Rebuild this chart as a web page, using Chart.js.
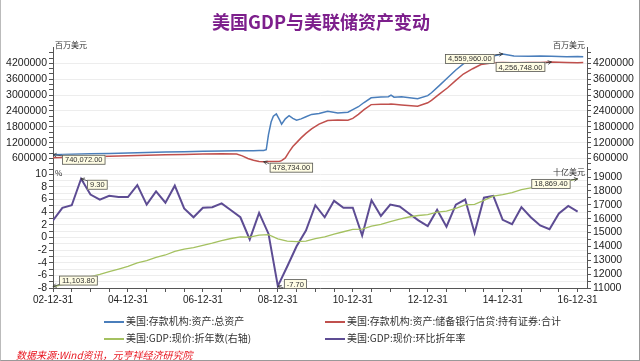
<!DOCTYPE html>
<html>
<head>
<meta charset="utf-8">
<script src="https://cdn.jsdelivr.net/npm/chart.js@4.4.1/dist/chart.umd.min.js"></script>
<style>
  body { margin: 0; background: #fff; }
  #wrap { position: relative; width: 640px; height: 361px; box-sizing: border-box;
          border-right: 1px solid #999; border-bottom: 1px solid #999; border-left: 1px solid #bbb; }
  #wrap canvas { position: absolute; left: 0; top: 0; }
  .leg { position: absolute; font: 10px "Noto Sans CJK SC", sans-serif; color: #333; white-space: nowrap; line-height: 12px; }
  .leg i { position: absolute; top: 6px; height: 2px; }
  #src { position: absolute; left: 15px; top: 347px; color: #e8141e; font: italic 10px "Noto Sans CJK SC", sans-serif; white-space: nowrap; }
</style>
</head>
<body>
<div id="wrap">
  <canvas id="chart" width="640" height="361"></canvas>
  <div id="legend"></div>
  <div id="src">数据来源:Wind资讯，元亨祥经济研究院</div>
</div>
<script>
// 标题和图例
const chartTitle = "美国GDP与美联储资产变动";
const seriesNames = [
    "美国:存款机构:资产:总资产",
    "美国:存款机构:资产:储备银行信贷:持有证券:合计",
    "美国:GDP:现价:折年数(右轴)",
    "美国:GDP:现价:环比折年率"
];
const seriesColors = ["#4a7ebb", "#c0504d", "#a4c160", "#5d4c93"];

// 美联储资产 (百万美元), 按日期 (年份小数)
const assetDates = [2003.00, 2003.50, 2004.00, 2004.50, 2005.00, 2005.50, 2006.00, 2006.50, 2007.00, 2007.50,
    2007.90, 2008.05, 2008.20, 2008.35, 2008.50, 2008.62, 2008.69, 2008.75, 2008.82, 2008.88,
    2008.96, 2009.05, 2009.10, 2009.20, 2009.30, 2009.40, 2009.50, 2009.62, 2009.75, 2009.90,
    2010.10, 2010.33, 2010.60, 2010.87, 2011.00, 2011.15, 2011.30, 2011.49, 2011.75, 2011.95,
    2012.02, 2012.10, 2012.30, 2012.73, 2013.00, 2013.10, 2013.30, 2013.53, 2013.75, 2013.95,
    2014.20, 2014.42, 2014.75, 2015.00, 2015.30, 2015.70, 2016.00, 2016.30, 2016.70, 2017.00, 2017.15];
const totalAssets = [740072, 758000, 775000, 790000, 810000, 828000, 845000, 858000, 872000, 885000,
    890000, 888000, 890000, 895000, 900000, 905000, 930000, 1500000, 1980000, 2200000,
    2290000, 2050000, 1900000, 2100000, 2220000, 2120000, 2050000, 2100000, 2180000, 2270000,
    2300000, 2390000, 2320000, 2350000, 2450000, 2560000, 2720000, 2900000, 2930000, 2940000,
    3000000, 2920000, 2940000, 2860000, 2980000, 3090000, 3350000, 3660000, 3950000, 4180000,
    4380000, 4500000, 4480000, 4559960, 4480000, 4470000, 4480000, 4470000, 4450000, 4460000, 4450000];
const securities = [630000, 648000, 668000, 685000, 705000, 722000, 740000, 755000, 768000, 778000,
    765000, 700000, 600000, 530000, 484000, 478734, 480000, 482000, 485000, 488000,
    490000, 495000, 520000, 620000, 850000, 1050000, 1200000, 1380000, 1550000, 1720000,
    1900000, 2040000, 2060000, 2050000, 2120000, 2270000, 2450000, 2640000, 2650000, 2650000,
    2660000, 2650000, 2630000, 2580000, 2710000, 2800000, 3030000, 3280000, 3560000, 3800000,
    4000000, 4160000, 4230000, 4240000, 4230000, 4240000, 4235000, 4256748, 4240000, 4230000, 4235000];

// GDP 季度数据, 2002Q4 起
const gdpStartYear = 2003;   // 2002-12-31
const gdpLevel = [11103.8, 11230, 11370, 11625, 11817, 11989, 12182, 12368, 12562, 12813,
    12974, 13205, 13381, 13649, 13799, 13908, 14066, 14234, 14423, 14570,
    14685, 14668, 14813, 14843, 14550, 14384, 14340, 14385, 14566, 14682,
    14888, 15057, 15231, 15242, 15462, 15588, 15786, 15973, 16121, 16228,
    16297, 16475, 16541, 16749, 16999, 17031, 17320, 17622, 17735, 17874,
    18093, 18228, 18288, 18325, 18538, 18729, 18869.4];
const gdpGrowth = [2.7, 4.7, 5.1, 9.3, 6.8, 6.0, 6.6, 6.4, 6.4, 8.3,
    5.2, 7.3, 5.5, 8.2, 4.6, 3.2, 4.7, 4.8, 5.4, 4.3,
    3.2, -0.3, 3.9, 0.6, -7.7, -4.6, -1.4, 1.1, 5.1, 3.2,
    5.8, 4.7, 4.7, 0.3, 5.9, 3.4, 5.2, 4.9, 3.8, 2.7,
    1.8, 4.4, 1.7, 5.2, 6.0, 0.7, 6.3, 6.6, 2.8, 2.1,
    4.8, 3.2, 1.9, 1.3, 3.8, 5.0, 4.1];

const gdpDates = gdpLevel.map((v, i) => gdpStartYear + i * 0.25);
const pts = (xs, ys) => xs.map((x, i) => ({ x: x, y: ys[i] }));

const tickFont = { family: "'Liberation Sans', Arial, sans-serif", size: 10.5 };
const axisColor = "#555";
const gridColor = "#ededed";

// 标注框: 数据集, 取最大/最小, 方向, 偏移
const callouts = [
    { ds: 0, pick: "min", side: "right", dx: 9, dy: 5 },
    { ds: 0, pick: "max", side: "left", dx: 8, dy: 5 },
    { ds: 1, pick: "min", side: "right", dx: 6, dy: 6 },
    { ds: 1, pick: "max", side: "left", dx: 6, dy: 5 },
    { ds: 2, pick: "min", side: "right", dx: 6, dy: -6 },
    { ds: 2, pick: "max", side: "left", dx: 7, dy: 5 },
    { ds: 3, pick: "max", side: "right", dx: 6, dy: 6 },
    { ds: 3, pick: "min", side: "right", dx: 6, dy: -2 }
];

const calloutPlugin = {
    id: "callouts",
    afterDatasetsDraw(chart) {
        const c = chart.ctx;
        c.save();
        c.font = "7.5px 'Liberation Sans', Arial, sans-serif";
        c.textBaseline = "middle";
        callouts.forEach(co => {
            const data = chart.data.datasets[co.ds].data;
            let idx = 0;
            data.forEach((p, i) => {
                if (co.pick === "max" ? p.y > data[idx].y : p.y < data[idx].y) idx = i;
            });
            const el = chart.getDatasetMeta(co.ds).data[idx];
            const px = el.x, py = el.y;
            const txt = data[idx].y.toLocaleString("en-US", { minimumFractionDigits: 2, maximumFractionDigits: 2 });
            const w = c.measureText(txt).width + 6, h = 10;
            const bx = co.side === "right" ? px + co.dx : px - co.dx - w;
            const by = py + co.dy - h / 2;
            const ax = co.side === "right" ? bx : bx + w;
            const ay = co.dy > 0 ? by + 1 : by + h - 1;
            // 箭头
            c.strokeStyle = "#333";
            c.lineWidth = 0.8;
            c.beginPath();
            c.moveTo(ax, ay);
            c.lineTo(px, py);
            c.stroke();
            const ang = Math.atan2(py - ay, px - ax);
            c.beginPath();
            c.moveTo(px - 4 * Math.cos(ang - 0.5), py - 4 * Math.sin(ang - 0.5));
            c.lineTo(px, py);
            c.lineTo(px - 4 * Math.cos(ang + 0.5), py - 4 * Math.sin(ang + 0.5));
            c.stroke();
            // 框
            c.fillStyle = "#fffde4";
            c.fillRect(bx, by, w, h);
            c.strokeStyle = "#555";
            c.lineWidth = 0.8;
            c.strokeRect(bx + 0.5, by + 0.5, w - 1, h - 1);
            c.fillStyle = "#333";
            c.textAlign = "left";
            c.fillText(txt, bx + 3, by + h / 2 + 0.5);
        });
        c.restore();
    }
};

// 坐标轴单位
const unitPlugin = {
    id: "units",
    afterDraw(chart) {
        const c = chart.ctx, s = chart.scales;
        c.save();
        c.font = "8px 'Noto Sans CJK SC', sans-serif";
        c.fillStyle = "#333";
        c.textBaseline = "middle";
        c.textAlign = "left";
        c.fillText("百万美元", s.yA.right + 2, s.yA.top - 3);
        c.fillText("%", s.yB.right + 2, s.yB.top - 1);
        c.textAlign = "right";
        c.fillText("百万美元", s.yAR.left - 2, s.yAR.top - 3);
        c.fillText("十亿美元", s.yBR.left - 2, s.yBR.top - 2);
        c.restore();
    }
};

// 刻度列表 (含次刻度)
const tickList = (from, to, step) => {
    const out = [];
    for (let v = from; v <= to + step / 1000; v += step) out.push({ value: Math.round(v / step) * step });
    return out;
};

const yScale = (pos, stack, weight, stackWeight, min, max, first, last, step, major, drawGrid, width) => ({
    position: pos, stack: stack, weight: weight, stackWeight: stackWeight,
    min: min, max: max,
    afterBuildTicks: s => { s.ticks = tickList(first, last, step); },
    afterFit: s => { s.width = width; },
    ticks: {
        autoSkip: false, font: tickFont, color: "#222", padding: 2,
        callback: v => (Math.abs(v % major) < 1e-6 ? String(v) : "")
    },
    grid: {
        drawOnChartArea: drawGrid, tickLength: 4, tickColor: axisColor,
        color: ctx => (ctx.tick && Math.abs(ctx.tick.value % major) < 1e-6 ? gridColor : "rgba(0,0,0,0)")
    },
    border: { color: axisColor }
});

const scaleA = yScale("left", "l", 2, 126.5, 0, 4800000, 200000, 4600000, 200000, 600000, true, 52);
const scaleB = yScale("left", "l", 1, 113.5, -8, 10, -8, 10, 1, 2, true, 52);
scaleB.grid.color = gridColor;
const scaleAR = yScale("right", "r", 1, 126.5, 0, 4800000, 200000, 4600000, 200000, 600000, false, 54);
const scaleBR = yScale("right", "r", 2, 113.5, 11000, 19200, 11000, 19000, 500, 1000, false, 54);

new Chart(document.getElementById("chart"), {
    type: "line",
    data: {
        datasets: [
            { label: seriesNames[0], data: pts(assetDates, totalAssets), yAxisID: "yA", borderColor: seriesColors[0], borderWidth: 1.5 },
            { label: seriesNames[1], data: pts(assetDates, securities), yAxisID: "yA", borderColor: seriesColors[1], borderWidth: 1.5 },
            { label: seriesNames[2], data: pts(gdpDates, gdpLevel), yAxisID: "yBR", borderColor: seriesColors[2], borderWidth: 1.3 },
            { label: seriesNames[3], data: pts(gdpDates, gdpGrowth), yAxisID: "yB", borderColor: seriesColors[3], borderWidth: 2 }
        ]
    },
    options: {
        responsive: false,
        animation: false,
        elements: { point: { radius: 0 }, line: { tension: 0 } },
        layout: { padding: { left: 0, right: 0, top: 0, bottom: 53 } },
        plugins: {
            legend: { display: false },
            tooltip: { enabled: false },
            title: {
                display: true, text: chartTitle, color: "#7d1f8c",
                font: { family: "'Noto Sans CJK SC', sans-serif", size: 18, weight: "bold" },
                padding: { top: 11, bottom: 15 }
            }
        },
        scales: {
            x: {
                type: "linear", min: 2003, max: 2017.25,
                afterBuildTicks: s => { s.ticks = tickList(2003, 2017, 0.5); },
                afterFit: s => { s.height = 20; },
                ticks: {
                    autoSkip: false, maxRotation: 0, font: { family: tickFont.family, size: 10 }, color: "#222", padding: 2,
                    callback: v => ((v - 2003) % 2 === 0 ? String(v - 1).slice(2) + "-12-31" : "")
                },
                grid: { drawOnChartArea: false, tickLength: 4, color: axisColor },
                border: { color: axisColor }
            },
            yA: scaleA,
            yB: scaleB,
            yAR: scaleAR,
            yBR: scaleBR
        }
    },
    plugins: [calloutPlugin, unitPlugin]
});

// 图例 (两列)
const legendPos = [[103, 315], [324, 315], [103, 332], [324, 332]];
document.getElementById("legend").innerHTML = seriesNames.map((n, i) =>
    '<div class="leg" style="left:' + legendPos[i][0] + 'px;top:' + legendPos[i][1] + 'px;padding-left:22px">' +
    '<i style="left:0;width:20px;background:' + seriesColors[i] + '"></i>' + n + '</div>').join("");
</script>
</body>
</html>
